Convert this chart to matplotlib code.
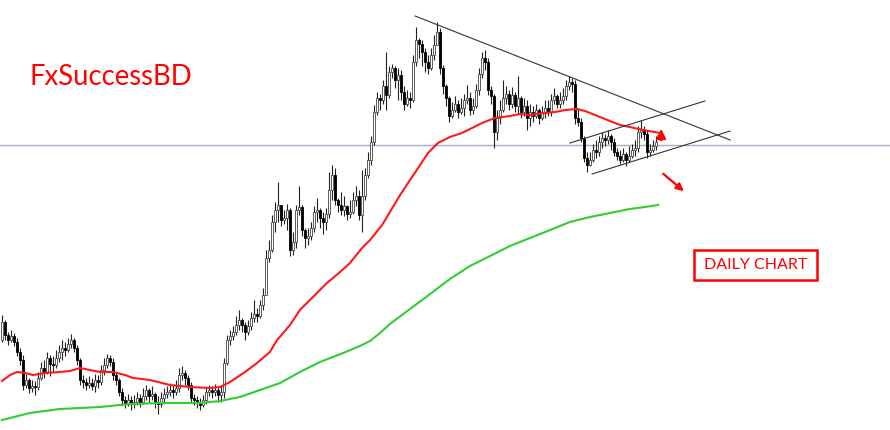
import matplotlib
matplotlib.use("Agg")
import matplotlib.pyplot as plt
from matplotlib.patches import Rectangle

# daily candles, price units (arbitrary scale), oldest first
first_open = 90
closes = [108, 95, 90, 94, 88, 78, 70, 45, 50, 42, 44, 43, 52, 62, 58, 72, 66, 65, 72, 78,
          82, 80, 86, 90, 82, 70, 50, 48, 45, 47, 44, 50, 48, 60, 65, 72, 68, 55, 50, 38,
          30, 27, 30, 26, 28, 32, 28, 34, 40, 34, 36, 28, 26, 32, 36, 38, 40, 38, 42, 55,
          57, 52, 45, 32, 30, 28, 25, 30, 38, 40, 38, 40, 35, 38, 67, 90, 94, 98, 105, 110,
          105, 98, 104, 112, 116, 114, 125, 135, 172, 180, 208, 220, 225, 210, 212, 220, 180, 188, 220, 223,
          200, 192, 194, 202, 218, 220, 212, 208, 216, 240, 255, 230, 225, 220, 224, 216, 218, 230, 234, 215,
          234, 255, 270, 288, 318, 332, 330, 344, 335, 358, 362, 350, 355, 338, 326, 332, 330, 368, 390, 386,
          378, 368, 362, 375, 385, 398, 362, 344, 332, 314, 320, 326, 318, 322, 330, 332, 320, 324, 340, 356,
          372, 368, 340, 334, 298, 312, 320, 332, 336, 326, 335, 324, 332, 318, 324, 312, 318, 314, 320, 312,
          318, 322, 318, 330, 334, 326, 330, 334, 344, 348, 346, 312, 308, 292, 272, 265, 270, 280, 278, 288,
          292, 290, 294, 288, 278, 274, 270, 276, 270, 274, 280, 282, 298, 300, 296, 278, 280, 284, 288]
highs = [115, 110, 98, 100, 97, 92, 82, 75, 56, 52, 50, 49, 58, 68, 70, 78, 75, 74, 80, 85,
         90, 88, 92, 96, 92, 85, 72, 55, 52, 54, 52, 56, 55, 65, 72, 76, 75, 72, 58, 52,
         42, 34, 36, 34, 35, 38, 36, 42, 45, 42, 44, 38, 34, 38, 42, 44, 47, 45, 50, 62,
         64, 60, 55, 48, 36, 34, 32, 35, 43, 45, 44, 46, 44, 45, 72, 95, 100, 104, 114, 120,
         112, 108, 110, 118, 130, 122, 130, 142, 180, 190, 215, 228, 248, 225, 220, 226, 222, 198, 225, 244,
         225, 202, 202, 208, 224, 232, 222, 218, 222, 258, 265, 262, 232, 238, 234, 225, 230, 238, 244, 240,
         260, 262, 278, 294, 325, 338, 336, 350, 378, 364, 366, 364, 362, 360, 344, 340, 338, 375, 403, 392,
         390, 382, 375, 382, 395, 408, 402, 365, 346, 334, 328, 334, 330, 332, 336, 345, 338, 332, 346, 362,
         378, 380, 372, 344, 336, 320, 330, 350, 344, 340, 343, 338, 354, 334, 332, 330, 326, 324, 326, 322,
         324, 330, 330, 336, 342, 336, 338, 342, 350, 354, 352, 350, 322, 312, 294, 278, 278, 286, 290, 294,
         298, 296, 300, 296, 292, 282, 280, 282, 278, 284, 286, 290, 304, 310, 304, 300, 286, 290, 294]
lows = [88, 90, 85, 88, 84, 74, 65, 40, 42, 37, 38, 35, 40, 50, 52, 56, 54, 58, 62, 68,
        70, 74, 78, 82, 78, 65, 45, 42, 40, 42, 40, 38, 42, 45, 55, 62, 64, 50, 45, 34,
        25, 22, 24, 20, 22, 25, 23, 26, 30, 28, 30, 22, 16, 23, 28, 32, 34, 32, 35, 38,
        50, 45, 40, 28, 25, 22, 20, 23, 26, 34, 32, 34, 28, 28, 32, 65, 85, 90, 95, 100,
        98, 90, 95, 100, 108, 108, 112, 120, 135, 168, 178, 198, 208, 204, 206, 200, 174, 175, 182, 215,
        194, 182, 185, 190, 198, 208, 202, 196, 200, 212, 230, 225, 218, 215, 214, 210, 212, 216, 224, 210,
        198, 230, 252, 265, 285, 315, 320, 326, 320, 332, 352, 342, 330, 330, 320, 324, 322, 328, 364, 372,
        364, 358, 356, 360, 370, 388, 356, 336, 324, 308, 312, 318, 312, 316, 314, 326, 315, 316, 322, 335,
        352, 360, 335, 326, 282, 290, 306, 318, 326, 320, 322, 318, 316, 312, 314, 300, 304, 308, 312, 306,
        310, 312, 314, 314, 326, 322, 322, 326, 330, 340, 338, 306, 304, 288, 268, 258, 264, 268, 272, 274,
        282, 284, 286, 280, 274, 270, 266, 268, 264, 268, 272, 274, 278, 292, 290, 272, 274, 278, 280]

# moving averages sampled at bar index
red_ma_idx = [0, 2.7, 5, 7.7, 10.3, 14.3, 19.3, 22.7, 26, 29.3, 32.7, 37, 41, 43.7, 49.3, 56, 62.7, 69.3,
              72.7, 76, 81, 85, 89.3, 91.7, 96, 99.3, 104.3, 108.3, 112.7, 116, 120, 122.7, 126.7, 129.3,
              132.7, 136, 138.7, 142, 145.3, 149.3, 153.3, 156.7, 160, 164.3, 169.3, 172.7, 176, 181, 184.3,
              187.7, 191.7, 194.3, 197.7, 201, 206, 209.3, 213.7, 219.3]
red_ma = [49, 55, 58, 57, 55, 57, 58, 59, 62, 60, 58, 58, 55, 52, 50, 45, 43, 42,
          43, 48, 58, 67, 78, 90, 105, 120, 135, 147, 158, 167, 182, 190, 205, 218,
          235, 250, 262, 277, 287, 293, 297, 302, 307, 312, 314, 316, 315, 317, 318,
          320, 321, 319, 315, 311, 305, 303, 300, 297]
green_ma_idx = [0, 9.3, 19.3, 32.7, 42.7, 52.7, 66, 72.7, 79.3, 86, 92.7, 99.3, 106, 113.7, 119.3, 122.7,
                126, 129.3, 136, 142.7, 149.3, 156, 162.7, 169.3, 176, 182.7, 189.3, 196, 202.7, 209.3,
                214.3, 218.7]
green_ma = [10, 17, 21, 23, 26, 27, 27, 29, 33, 40, 47, 58, 68, 77, 84, 89,
            97, 106, 121, 136, 151, 164, 174, 184, 192, 200, 208, 213, 217, 221,
            223, 225]

# drawn levels / trendlines (bar index, price)
h_level = 285
falling_line = [(137.7, 414), (242.7, 290)]
channel_top = [(189.3, 287), (234.3, 329)]
channel_bottom = [(196.7, 256), (242.7, 299)]

fig = plt.figure(figsize=(8.9, 4.3), dpi=100)
ax = fig.add_axes([0, 0, 1, 1])
ax.set_xlim(-2 / 3, -2 / 3 + 890 / 3)
ax.set_ylim(0, 430)
ax.axis("off")

opens = [first_open] + closes[:-1]
for i, (o, h, l, c) in enumerate(zip(opens, highs, lows, closes)):
    h = max(h, o, c)
    l = min(l, o, c)
    up = c >= o
    ax.vlines(i, l, h, color="#222222", linewidth=0.8, zorder=2)
    body = max(abs(c - o), 0.8)
    ax.bar(i, body, bottom=min(o, c), width=0.72,
           color="white" if up else "black",
           edgecolor="#444444" if up else "black", linewidth=0.6, zorder=3)

ax.axhline(h_level, color="#9fb0c6", linewidth=1.0, zorder=1)

ax.plot(red_ma_idx, red_ma, color="#ff1a1a", linewidth=1.5, zorder=4)
ax.plot(green_ma_idx, green_ma, color="#33cc33", linewidth=1.5, zorder=4)

for seg in (falling_line, channel_top, channel_bottom):
    ax.plot([seg[0][0], seg[1][0]], [seg[0][1], seg[1][1]], color="#333333", linewidth=0.8, zorder=5)

ax.annotate("", xy=(219.7, 304), xytext=(219.7, 287),
            arrowprops=dict(arrowstyle="-|>", color="red", lw=1.6, mutation_scale=14))
ax.annotate("", xy=(228, 237), xytext=(219.7, 258),
            arrowprops=dict(arrowstyle="-|>", color="red", lw=1.6, mutation_scale=11))

ax.text(9.3, 353, "FxSuccessBD", color="red", fontsize=19.8, family="Lato",
        va="center", ha="left")

ax.add_patch(Rectangle((230.7, 150), 41, 30, fill=False, edgecolor="red", linewidth=1.8, zorder=6))
ax.text(251.2, 165, "DAILY CHART", color="red", fontsize=11.5, family="Lato",
        va="center", ha="center", zorder=6)

fig.savefig("out.png", dpi=100)
